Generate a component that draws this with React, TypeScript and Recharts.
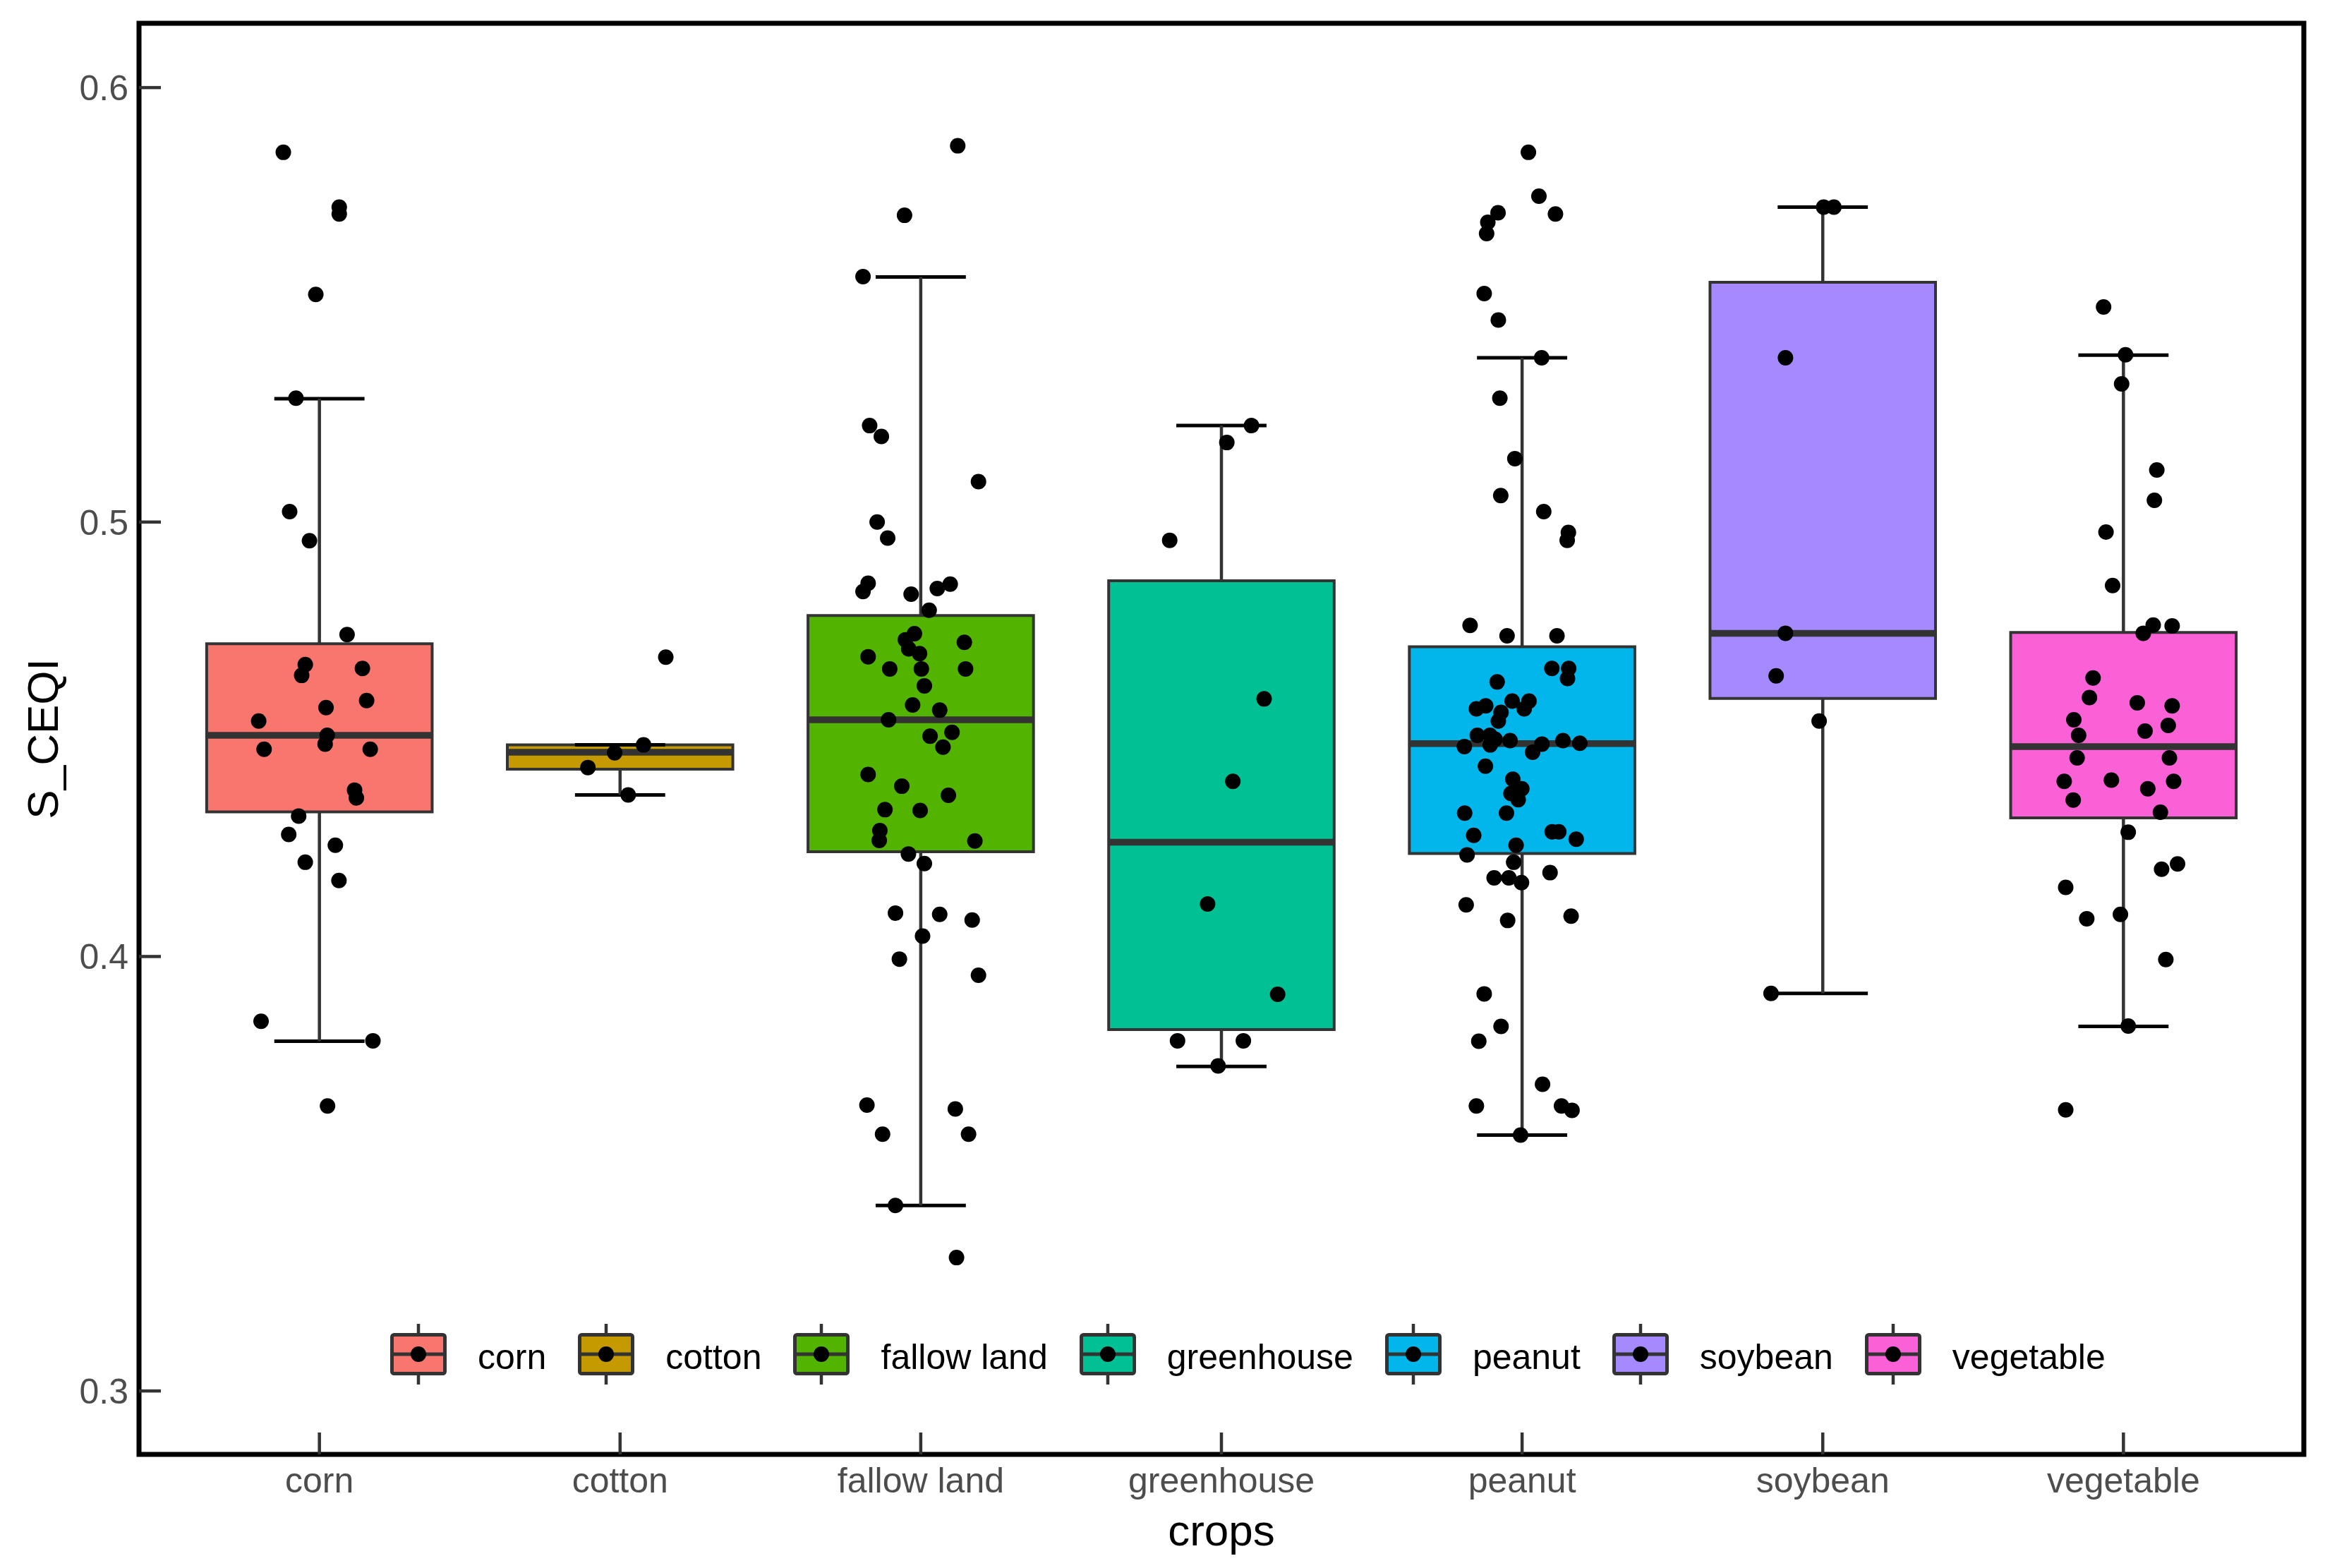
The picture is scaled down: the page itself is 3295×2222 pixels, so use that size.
import React from "react";
import {
  ComposedChart,
  XAxis,
  YAxis,
  Scatter,
  ReferenceArea,
  ReferenceLine,
  Legend,
  Label,
} from "recharts";

const FONT = "'Liberation Sans', Arial, sans-serif";

const CROPS = ["corn", "cotton", "fallow land", "greenhouse", "peanut", "soybean", "vegetable"];
const FILLS = ["#F8766D", "#C49A00", "#53B400", "#00C094", "#00B6EB", "#A58AFF", "#FB61D7"];

// box statistics, one entry per crop
const LOWER = [0.3805, 0.4372, 0.3427, 0.3747, 0.3589, 0.3915, 0.3839];
const Q1 = [0.4333, 0.4431, 0.4241, 0.3832, 0.4237, 0.4594, 0.4319];
const MEDIAN = [0.4509, 0.447, 0.4545, 0.4263, 0.449, 0.4744, 0.4483];
const Q3 = [0.472, 0.4487, 0.4785, 0.4865, 0.4713, 0.5552, 0.4746];
const UPPER = [0.5284, 0.4487, 0.5564, 0.5222, 0.5378, 0.5725, 0.5384];

// jittered observations: [horizontal jitter in category units, S_CEQI]
const CORN: [number, number][] = [
  [-0.12, 0.5851], [0.066, 0.5725], [0.066, 0.5709], [-0.012, 0.5524], [-0.078, 0.5285],
  [-0.099, 0.5024], [-0.033, 0.4957], [0.092, 0.4741], [-0.047, 0.4672], [-0.059, 0.4647],
  [0.143, 0.4663], [0.157, 0.4589], [0.022, 0.4573], [-0.202, 0.4542], [0.026, 0.4509],
  [0.019, 0.4489], [-0.184, 0.4477], [0.169, 0.4477], [0.117, 0.4383], [0.123, 0.4365],
  [-0.069, 0.4323], [-0.102, 0.4281], [0.053, 0.4256], [-0.047, 0.4217], [0.065, 0.4175],
  [-0.194, 0.3851], [0.178, 0.3806], [0.027, 0.3656],
];
const COTTON: [number, number][] = [
  [0.152, 0.4689], [0.078, 0.4487], [-0.018, 0.4469], [-0.107, 0.4435], [0.027, 0.4372],
];
const FALLOW: [number, number][] = [
  [0.123, 0.5866], [-0.054, 0.5706], [-0.192, 0.5565], [-0.17, 0.5222], [-0.131, 0.5197],
  [0.192, 0.5093], [-0.145, 0.5], [-0.11, 0.4963], [-0.175, 0.4859], [-0.192, 0.484],
  [-0.032, 0.4834], [0.055, 0.4847], [0.098, 0.4857], [0.028, 0.4797], [-0.021, 0.4743],
  [-0.051, 0.4729], [0.145, 0.4723], [-0.04, 0.4708], [-0.004, 0.4697], [-0.175, 0.469],
  [-0.103, 0.4662], [0.002, 0.4662], [0.149, 0.4662], [0.012, 0.4623], [-0.027, 0.4579],
  [0.063, 0.4567], [-0.107, 0.4545], [0.031, 0.4507], [0.104, 0.4516], [0.074, 0.4482],
  [-0.175, 0.4419], [-0.063, 0.4392], [0.092, 0.4371], [-0.119, 0.4338], [-0.002, 0.4336],
  [-0.136, 0.429], [-0.138, 0.4267], [0.18, 0.4266], [-0.041, 0.4236], [0.012, 0.4214],
  [-0.084, 0.41], [0.063, 0.4097], [0.171, 0.4084], [0.006, 0.4047], [-0.071, 0.3994],
  [0.192, 0.3957], [-0.179, 0.3658], [0.115, 0.3649], [-0.127, 0.3591], [0.159, 0.3591],
  [-0.084, 0.3427], [0.119, 0.3307],
];
const GREENHOUSE: [number, number][] = [
  [0.1, 0.5222], [0.018, 0.5183], [-0.172, 0.4958], [0.142, 0.4593], [0.038, 0.4403],
  [-0.046, 0.4121], [0.187, 0.3913], [-0.146, 0.3806], [0.073, 0.3806], [-0.011, 0.3748],
];
const PEANUT: [number, number][] = [
  [0.021, 0.5851], [0.056, 0.575], [-0.08, 0.5712], [0.111, 0.5709], [-0.114, 0.569],
  [-0.118, 0.5664], [-0.126, 0.5526], [-0.079, 0.5465], [0.065, 0.5378], [-0.074, 0.5285],
  [-0.024, 0.5146], [-0.071, 0.5061], [0.072, 0.5024], [0.154, 0.4976], [0.15, 0.4958],
  [-0.173, 0.4762], [-0.05, 0.4738], [0.116, 0.4738], [0.099, 0.4663], [0.155, 0.4663],
  [0.151, 0.464], [-0.083, 0.4632], [-0.033, 0.4588], [0.023, 0.4588], [-0.152, 0.457],
  [-0.121, 0.4577], [0.007, 0.457], [-0.07, 0.4562], [-0.079, 0.4542], [-0.149, 0.4509],
  [-0.107, 0.4509], [-0.09, 0.45], [-0.04, 0.4497], [-0.106, 0.4487], [-0.192, 0.4483],
  [0.066, 0.4489], [0.136, 0.4497], [0.192, 0.4491], [0.035, 0.447], [-0.122, 0.4438],
  [-0.031, 0.4408], [-0.001, 0.4386], [-0.037, 0.4375], [-0.013, 0.4361], [-0.191, 0.433],
  [-0.052, 0.433], [0.1, 0.4287], [0.122, 0.4287], [-0.161, 0.4279], [0.18, 0.427],
  [-0.183, 0.4234], [-0.02, 0.4256], [-0.028, 0.4217], [0.093, 0.4193], [-0.093, 0.4181],
  [-0.044, 0.4181], [-0.002, 0.417], [-0.186, 0.4119], [0.163, 0.4093], [-0.048, 0.4083],
  [-0.126, 0.3914], [-0.07, 0.3839], [-0.144, 0.3805], [0.068, 0.3706], [-0.152, 0.3656],
  [0.131, 0.3656], [0.166, 0.3646], [-0.005, 0.3589],
];
const SOYBEAN: [number, number][] = [
  [0.003, 0.5725], [0.037, 0.5725], [-0.124, 0.5378], [-0.124, 0.4744], [-0.155, 0.4646],
  [-0.012, 0.4542], [-0.172, 0.3915],
];
const VEGETABLE: [number, number][] = [
  [-0.066, 0.5495], [0.007, 0.5385], [-0.006, 0.5318], [0.111, 0.512], [0.103, 0.505],
  [-0.058, 0.4977], [-0.036, 0.4854], [0.099, 0.4763], [0.162, 0.4761], [0.066, 0.4744],
  [-0.101, 0.4641], [-0.113, 0.4596], [0.046, 0.4584], [0.162, 0.4577], [-0.165, 0.4545],
  [0.149, 0.4532], [0.072, 0.4519], [-0.149, 0.4509], [-0.154, 0.4457], [0.153, 0.4457],
  [-0.197, 0.4403], [-0.04, 0.4406], [0.167, 0.4403], [0.081, 0.4386], [-0.167, 0.436],
  [0.123, 0.4332], [0.016, 0.4286], [0.18, 0.4213], [0.127, 0.4201], [-0.192, 0.4159],
  [-0.122, 0.4087], [-0.01, 0.4097], [0.141, 0.3993], [0.016, 0.384], [-0.192, 0.3647],
];
const POINTS = [CORN, COTTON, FALLOW, GREENHOUSE, PEANUT, SOYBEAN, VEGETABLE];

const Y_TICKS = [0.3, 0.4, 0.5, 0.6];
const X_TICKS = CROPS.map((_, i) => i + 1);
const Y_DOMAIN: [number, number] = [0.2854, 0.6148];
const X_DOMAIN: [number, number] = [0.4, 7.6];

const BOX_HALF = 0.375;
const CAP_HALF = 0.15;
const GREY = "#333333";

const XTick = (props: any) => {
  const { x, y, payload } = props;
  return (
    <g>
      <line x1={x} x2={x} y1={y} y2={y - 31} stroke={GREY} strokeWidth={4.5} />
      <text x={x} y={y + 54} textAnchor="middle" fontSize={50} fill="#4D4D4D" fontFamily={FONT}>
        {CROPS[payload.value - 1]}
      </text>
    </g>
  );
};

const YTick = (props: any) => {
  const { x, y, payload } = props;
  return (
    <g>
      <line x1={x} x2={x + 31} y1={y} y2={y} stroke={GREY} strokeWidth={4.5} />
      <text x={x - 15} y={y + 18} textAnchor="end" fontSize={50} fill="#4D4D4D" fontFamily={FONT}>
        {payload.value.toFixed(1)}
      </text>
    </g>
  );
};

const XTitle = (props: any) => {
  const vb = props.viewBox;
  return (
    <text x={vb.x + vb.width / 2} y={vb.y + 129} textAnchor="middle" fontSize={62} fill="#000" fontFamily={FONT}>
      crops
    </text>
  );
};

const YTitle = (props: any) => {
  const vb = props.viewBox;
  const cx = vb.x + 82;
  const cy = vb.y + vb.height / 2;
  return (
    <text
      x={cx}
      y={cy}
      transform={`rotate(-90 ${cx} ${cy})`}
      textAnchor="middle"
      fontSize={62}
      fill="#000"
      fontFamily={FONT}
    >
      S_CEQI
    </text>
  );
};

const KeyGlyph = ({ color }: { color: string }) => (
  <svg width={80} height={86} style={{ display: "block" }}>
    <line x1={40} x2={40} y1={0} y2={86} stroke={GREY} strokeWidth={4.5} />
    <rect x={2.5} y={15.5} width={75} height={55} rx={3} fill={color} stroke={GREY} strokeWidth={5} />
    <line x1={2.5} x2={77.5} y1={43} y2={43} stroke={GREY} strokeWidth={5} />
    <circle cx={40} cy={43} r={11} fill="#000" />
  </svg>
);

const CropLegend = () => (
  <div style={{ display: "flex", alignItems: "center", fontFamily: FONT, whiteSpace: "nowrap" }}>
    {CROPS.map((c, i) => (
      <div key={c} style={{ display: "flex", alignItems: "center", marginRight: 45 }}>
        <div style={{ marginRight: 44 }}>
          <KeyGlyph color={FILLS[i]} />
        </div>
        <span style={{ fontSize: 50, lineHeight: "50px", color: "#000", position: "relative", top: 4 }}>{c}</span>
      </div>
    ))}
  </div>
);

export default function App() {
  return (
    <div style={{ position: "absolute", left: 0, top: 0, width: 3295, height: 2222, background: "#fff" }}>
      <ComposedChart width={3295} height={2222} margin={{ top: 33, right: 30, bottom: 0, left: 0 }}>
        <XAxis
          type="number"
          dataKey="x"
          domain={X_DOMAIN}
          ticks={X_TICKS}
          interval={0}
          allowDataOverflow
          height={161}
          axisLine={false}
          tickLine={false}
          tickSize={0}
          tickMargin={0}
          tick={<XTick />}
        >
          <Label content={<XTitle />} />
        </XAxis>
        <YAxis
          type="number"
          dataKey="y"
          domain={Y_DOMAIN}
          ticks={Y_TICKS}
          interval={0}
          allowDataOverflow
          width={197}
          axisLine={false}
          tickLine={false}
          tickSize={0}
          tickMargin={0}
          tick={<YTick />}
        >
          <Label content={<YTitle />} />
        </YAxis>

        {/* error-bar caps */}
        {CROPS.map((c, i) => (
          <ReferenceLine
            key={`capl-${c}`}
            segment={[{ x: i + 1 - CAP_HALF, y: LOWER[i] }, { x: i + 1 + CAP_HALF, y: LOWER[i] }]}
            stroke="#000"
            strokeWidth={5}
          />
        ))}
        {CROPS.map((c, i) => (
          <ReferenceLine
            key={`capu-${c}`}
            segment={[{ x: i + 1 - CAP_HALF, y: UPPER[i] }, { x: i + 1 + CAP_HALF, y: UPPER[i] }]}
            stroke="#000"
            strokeWidth={5}
          />
        ))}
        {/* whiskers */}
        {CROPS.map((c, i) => (
          <ReferenceLine
            key={`wl-${c}`}
            segment={[{ x: i + 1, y: LOWER[i] }, { x: i + 1, y: Q1[i] }]}
            stroke={GREY}
            strokeWidth={4.5}
          />
        ))}
        {CROPS.map((c, i) => (
          <ReferenceLine
            key={`wu-${c}`}
            segment={[{ x: i + 1, y: Q3[i] }, { x: i + 1, y: UPPER[i] }]}
            stroke={GREY}
            strokeWidth={4.5}
          />
        ))}
        {/* boxes */}
        {CROPS.map((c, i) => (
          <ReferenceArea
            key={`box-${c}`}
            x1={i + 1 - BOX_HALF}
            x2={i + 1 + BOX_HALF}
            y1={Q1[i]}
            y2={Q3[i]}
            fill={FILLS[i]}
            fillOpacity={1}
            stroke={GREY}
            strokeWidth={4}
          />
        ))}
        {/* medians */}
        {CROPS.map((c, i) => (
          <ReferenceLine
            key={`med-${c}`}
            segment={[{ x: i + 1 - BOX_HALF, y: MEDIAN[i] }, { x: i + 1 + BOX_HALF, y: MEDIAN[i] }]}
            stroke={GREY}
            strokeWidth={9.5}
          />
        ))}
        {/* panel border */}
        <ReferenceArea
          x1={X_DOMAIN[0]}
          x2={X_DOMAIN[1]}
          y1={Y_DOMAIN[0]}
          y2={Y_DOMAIN[1]}
          fill="none"
          fillOpacity={0}
          stroke="#000"
          strokeWidth={7}
        />

        {POINTS.map((pts, i) => (
          <Scatter
            key={`pts-${CROPS[i]}`}
            name={CROPS[i]}
            data={pts.map(([j, v]) => ({ x: i + 1 + j, y: v }))}
            fill="#000"
            isAnimationActive={false}
            shape={(p: any) => <circle cx={p.cx} cy={p.cy} r={11} fill="#000" />}
          />
        ))}

        <Legend
          layout="horizontal"
          verticalAlign="middle"
          align="center"
          wrapperStyle={{ left: 553, top: 1876, width: "auto", height: "auto", bottom: "auto", right: "auto" }}
          content={() => <CropLegend />}
        />
      </ComposedChart>
    </div>
  );
}
